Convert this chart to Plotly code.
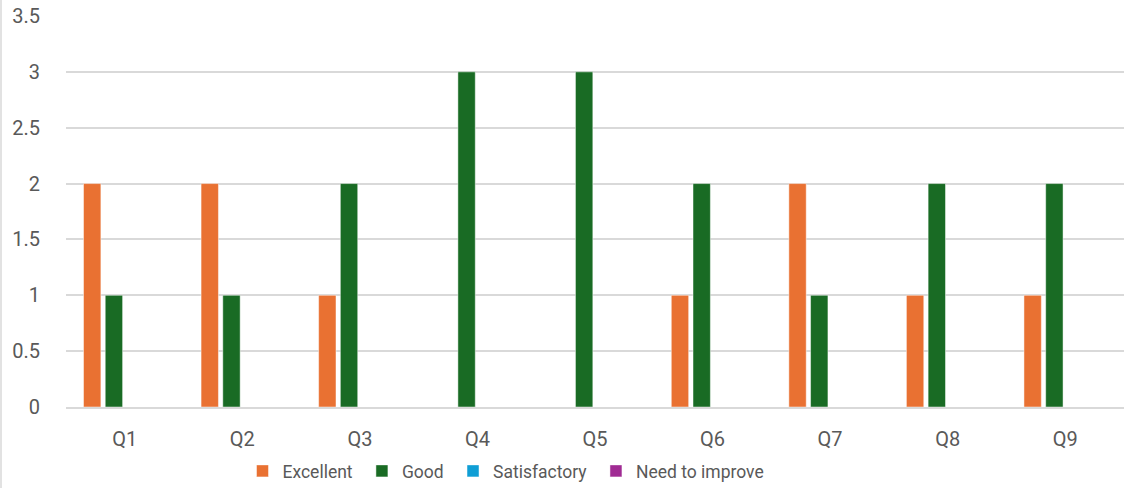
import plotly.graph_objects as go

categories = ["Q1", "Q2", "Q3", "Q4", "Q5", "Q6", "Q7", "Q8", "Q9"]
excellent = [2, 2, 1, 0, 0, 1, 2, 1, 1]
good = [1, 1, 2, 3, 3, 2, 1, 2, 2]
satisfactory = [0, 0, 0, 0, 0, 0, 0, 0, 0]
need_to_improve = [0, 0, 0, 0, 0, 0, 0, 0, 0]

series = [
    ("Excellent", excellent, "#E97132"),
    ("Good", good, "#196B24"),
    ("Satisfactory", satisfactory, "#0F9ED5"),
    ("Need to improve", need_to_improve, "#A02B93"),
]

FONT = "Roboto"
fig = go.Figure()
for name, vals, col in series:
    fig.add_trace(go.Bar(
        x=categories, y=vals, name=name + " ",
        marker=dict(color=col, line=dict(color="rgba(255,255,255,0.6)", width=0.8)),
    ))

L, R, T, B = 66, 12, 16, 81
W, H = 1136, 488
pw = W - L - R
ph = H - T - B

fig.update_layout(
    width=W, height=H,
    margin=dict(l=L, r=R, t=T, b=B, pad=0, autoexpand=False),
    paper_bgcolor="white", plot_bgcolor="white",
    barmode="group", bargap=0.261, bargroupgap=0.2,
    font=dict(family=FONT, size=20, color="#595959"),
    showlegend=True,
    legend=dict(orientation="h", xanchor="center", x=(508 - L) / pw,
                yanchor="middle", y=(407 - 471) / ph,
                font=dict(size=17.5, color="#595959"),
                traceorder="normal", itemwidth=30),
    xaxis=dict(showgrid=False, showline=True, linecolor="#d9d9d9", linewidth=1.5,
               ticks="", tickfont=dict(size=20, color="#595959"), ticklabelstandoff=13),
    yaxis=dict(range=[0, 3.5], dtick=0.5, showgrid=True, gridcolor="#d9d9d9", gridwidth=1.5,
               zeroline=False, showline=False, ticks="",
               tickfont=dict(size=20, color="#595959"), ticklabelstandoff=25),
    shapes=[dict(type="line", xref="paper", yref="paper",
                 x0=(1 - L) / pw, x1=(1 - L) / pw,
                 y0=-B / ph, y1=1 + T / ph,
                 line=dict(color="#d9d9d9", width=1.5))],
)

fig.write_html("out.html", config={"displayModeBar": False},
               post_script="document.body.style.margin='0';")
